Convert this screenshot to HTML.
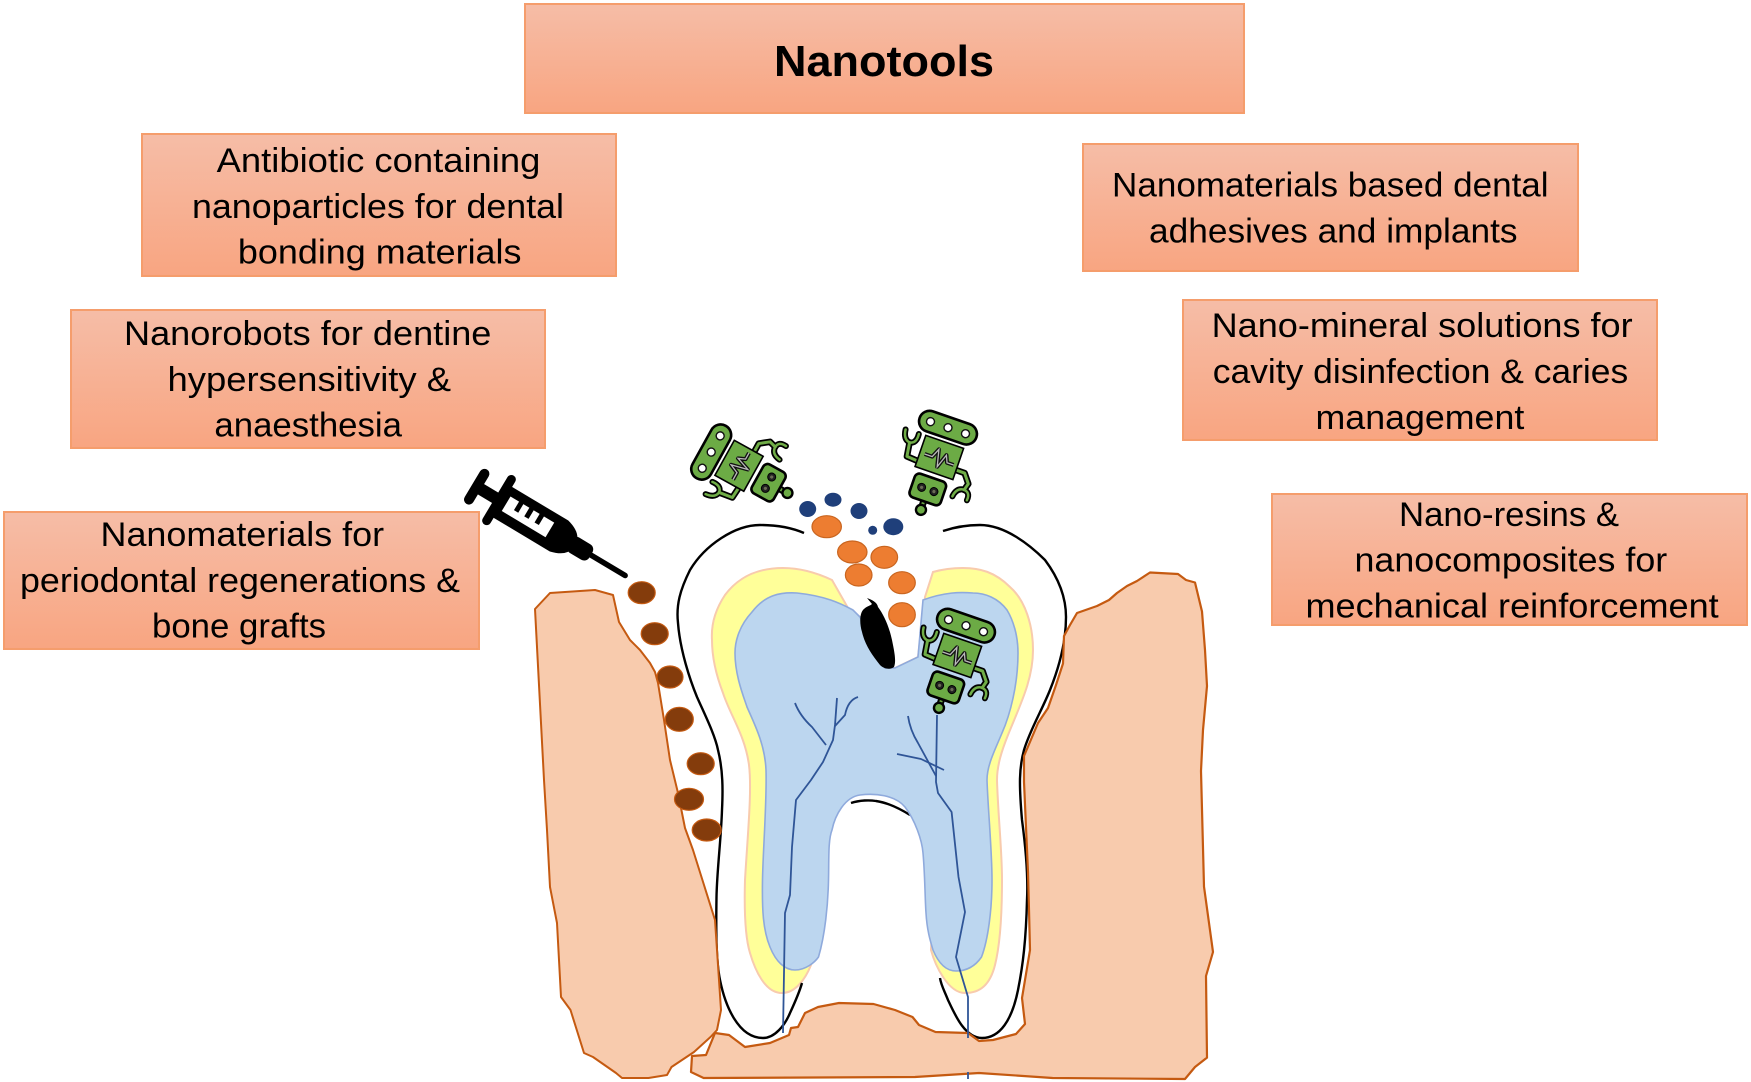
<!DOCTYPE html>
<html>
<head>
<meta charset="utf-8">
<style>
html,body{margin:0;padding:0;background:#fff;width:1751px;height:1082px;overflow:hidden}
svg{display:block}
text{font-family:"Liberation Sans",sans-serif;font-size:34px;fill:#000}
.box{fill:url(#g);stroke:#f59d6c;stroke-width:2}
</style>
</head>
<body>
<svg width="1751" height="1082" viewBox="0 0 1751 1082" xmlns="http://www.w3.org/2000/svg">
<defs>
<linearGradient id="g" x1="0" y1="0" x2="0" y2="1">
<stop offset="0" stop-color="#f6bda7"/>
<stop offset="1" stop-color="#f8a581"/>
</linearGradient>
<g id="robot">
  <g fill="none" stroke-linecap="round" stroke-linejoin="round">
    <path d="M-20,12 L-33,11 L-35,-3" stroke="#000" stroke-width="6.5"/>
    <path d="M-43,-14 Q-42,-4 -35,-3 Q-28,-4 -29,-14" stroke="#000" stroke-width="6"/>
    <path d="M14,8 L27,8 L34,17 L32,24" stroke="#000" stroke-width="6.5"/>
    <path d="M23,34 Q24,25 31,24 Q39,24 38,33" stroke="#000" stroke-width="6"/>
    <path d="M-20,12 L-33,11 L-35,-3" stroke="#70ad47" stroke-width="3"/>
    <path d="M-43,-14 Q-42,-4 -35,-3 Q-28,-4 -29,-14" stroke="#70ad47" stroke-width="2.5"/>
    <path d="M14,8 L27,8 L34,17 L32,24" stroke="#70ad47" stroke-width="3"/>
    <path d="M23,34 Q24,25 31,24 Q39,24 38,33" stroke="#70ad47" stroke-width="2.5"/>
  </g>
  <rect x="-33.5" y="-40" width="60" height="21" rx="10.5" fill="#6cab45" stroke="#000" stroke-width="2.6"/>
  <circle cx="-22" cy="-29.5" r="4" fill="#fff" stroke="#111" stroke-width="1.4"/>
  <circle cx="-3.5" cy="-29.5" r="4" fill="#fff" stroke="#111" stroke-width="1.4"/>
  <circle cx="15" cy="-29.5" r="4" fill="#fff" stroke="#111" stroke-width="1.4"/>
  <rect x="-22" y="-15" width="40" height="33" fill="#6cab45" stroke="#000" stroke-width="1.6"/>
  <path d="M-17,3 L-9,3 L-5,-6 L-1,11 L4,-3 L7,4 L14,4" fill="none" stroke="#111" stroke-width="4" stroke-linejoin="round"/>
  <path d="M-17,3 L-9,3 L-5,-6 L-1,11 L4,-3 L7,4 L14,4" fill="none" stroke="#b9b9b9" stroke-width="1.3"/>
  <rect x="-5" y="46" width="5" height="8" fill="#6cab45" stroke="#000" stroke-width="2"/>
  <circle cx="-2.3" cy="57" r="5" fill="#6cab45" stroke="#000" stroke-width="2.4"/>
  <rect x="-19" y="23" width="33" height="25" rx="5" fill="#6cab45" stroke="#000" stroke-width="2.6"/>
  <circle cx="-9" cy="35.5" r="4" fill="#222" stroke="#000" stroke-width="1"/>
  <circle cx="4" cy="35.5" r="4" fill="#222" stroke="#000" stroke-width="1"/>
  <circle cx="-9" cy="35.5" r="1.6" fill="#6b6b55"/>
  <circle cx="4" cy="35.5" r="1.6" fill="#6b6b55"/>
</g>
</defs>

<rect width="1751" height="1082" fill="#fff"/>

<rect class="box" x="525" y="4" width="719" height="109"/>
<rect class="box" x="142" y="134" width="474" height="142"/>
<rect class="box" x="71" y="310" width="474" height="138"/>
<rect class="box" x="4" y="512" width="475" height="137"/>
<rect class="box" x="1083" y="144" width="495" height="127"/>
<rect class="box" x="1183" y="300" width="474" height="140"/>
<rect class="box" x="1272" y="494" width="475" height="131"/>

<text x="774" y="76" textLength="220" lengthAdjust="spacingAndGlyphs" style="font-size:44px;font-weight:bold">Nanotools</text>
<text x="216.6" y="172" textLength="323.8" lengthAdjust="spacingAndGlyphs">Antibiotic containing</text>
<text x="192" y="217.8" textLength="372" lengthAdjust="spacingAndGlyphs">nanoparticles for dental</text>
<text x="237.9" y="263.5" textLength="283.6" lengthAdjust="spacingAndGlyphs">bonding materials</text>
<text x="124" y="345" textLength="367.4" lengthAdjust="spacingAndGlyphs">Nanorobots for dentine</text>
<text x="167.5" y="391" textLength="283.6" lengthAdjust="spacingAndGlyphs">hypersensitivity &amp;</text>
<text x="214.4" y="436.6" textLength="187.6" lengthAdjust="spacingAndGlyphs">anaesthesia</text>
<text x="100.5" y="546" textLength="283.6" lengthAdjust="spacingAndGlyphs">Nanomaterials for</text>
<text x="20" y="592" textLength="440" lengthAdjust="spacingAndGlyphs">periodontal regenerations &amp;</text>
<text x="152" y="637.6" textLength="174" lengthAdjust="spacingAndGlyphs">bone grafts</text>
<text x="1112" y="196.5" textLength="436.6" lengthAdjust="spacingAndGlyphs">Nanomaterials based dental</text>
<text x="1149" y="242.3" textLength="368.5" lengthAdjust="spacingAndGlyphs">adhesives and implants</text>
<text x="1211.6" y="337" textLength="421" lengthAdjust="spacingAndGlyphs">Nano-mineral solutions for</text>
<text x="1212.8" y="383" textLength="415.4" lengthAdjust="spacingAndGlyphs">cavity disinfection &amp; caries</text>
<text x="1315.5" y="428.8" textLength="208.8" lengthAdjust="spacingAndGlyphs">management</text>
<text x="1399" y="526" textLength="220" lengthAdjust="spacingAndGlyphs">Nano-resins &amp;</text>
<text x="1354.5" y="571.7" textLength="312.7" lengthAdjust="spacingAndGlyphs">nanocomposites for</text>
<text x="1305.5" y="617.5" textLength="413.2" lengthAdjust="spacingAndGlyphs">mechanical reinforcement</text>

<!-- tooth layers -->
<path d="M832,580 C815,572 800,568 783,568 C760,568 740,575 725,595 C715,610 711,625 712,640 C712,660 718,680 723,693 C730,715 745,735 749,765 C752,790 748,830 745,880 C744,915 746,940 750,953 C755,970 765,993 782,993 C795,993 805,980 811,965 L815,950 L820,890 L826,820 L850,780 L910,780 L930,850 L932,925 L931,950 C935,965 948,993 965,993 C980,993 990,985 995,965 C1000,945 1002,915 1002,880 C1002,850 998,815 997,780 C997,765 1002,750 1008,735 C1020,705 1033,680 1033,650 C1033,625 1025,600 1010,587 C995,572 980,568 963,568 C950,568 940,570 933,572 L925,597 L918,657 L895,668 L885,668 L860,617 L848,608 Z" fill="#ffff99" stroke="#f8cbad" stroke-width="2"/>

<path d="M851,803 C860,800 870,800 876,801 C890,803 902,810 910,815" fill="none" stroke="#000" stroke-width="2.4"/>

<path d="M853,610 C840,603 825,596 797,593 C780,592 765,595 752,612 C740,625 735,640 735,653 C735,675 743,695 747,707 C755,725 765,745 766,770 C767,800 763,850 762.5,880 C762,910 763,930 770,947 C776,962 785,970 795,970 C806,970 815,962 818.5,957 C825,935 828,905 828.5,880 C829,860 828,840 832,830 C835,815 845,797 860,795 C875,793 895,795 905,807 C915,820 922,840 923,853 C925,875 925,900 926,913 C927,930 930,940 933,950 C938,962 945,971 956,971 C968,971 976,965 981.5,957 C988,940 992,910 992,880 C992,850 988,810 987,780 C987,765 995,750 1002,733 C1010,715 1018,685 1018,653 C1018,635 1013,620 1007,610 C998,598 985,593 973,593 C960,592 945,592 923,600 L918,657 L895,668 L885,668 L860,617 Z" fill="#bcd6ef" stroke="#8faadc" stroke-width="1.6"/>

<!-- black outlines of tooth -->
<g fill="none" stroke="#000" stroke-width="2.4">
<path d="M804,533 C790,527 775,525 760,525 C735,525 705,545 690,570 C680,590 676,605 678,623 C680,650 690,680 697,697 C705,715 715,735 718,750 C723,770 723,790 722,810 C721,840 717,870 716.5,897 C716,930 716,960 720,980 C725,1005 738,1038 763,1038 C775,1038 785,1025 790,1013 C796,1000 800,990 802,983"/>
<path d="M943,531 C955,527 968,525 980,525 C1005,525 1030,545 1045,560 C1060,580 1066,600 1066,617 C1066,640 1060,665 1050,690 C1042,710 1030,730 1024,750 C1019,768 1019,785 1022,820 C1026,850 1028,880 1027,900 C1026,940 1023,965 1018,990 C1012,1020 1000,1038 982,1038 C965,1038 955,1015 948,1000 C944,990 941,985 940,978"/>
</g>

<!-- gums -->
<path d="M535,609 L550,593 L595,590 L613,595 L619,622 L630,640 L640,650 L650,663 L655,672 L658,683 L664,720 L670,760 L678,793 L685,828 L693,850 L704,885 L715,920 L718,965 L721,1010 L717,1030 L710.5,1037 L694,1052 L671.5,1067 L667,1075 L648.5,1078 L622,1078 L616,1073 L593,1057 L584,1053 L570.5,1010 L561,997 L557,923 L550,887 L547,830 L544,780 Z" fill="#f8cbad" stroke="#c55a11" stroke-width="2" stroke-linejoin="round"/>
<path d="M715,1033 L729,1035 L745,1047 L770,1043 L789,1035 L791,1028 L798,1027 L805,1013 L818,1007 L839,1003 L873.5,1004 L895,1010 L912.5,1017 L919,1025 L935.5,1032 L968,1033 L979,1041 L993,1040 L1016,1034 L1025,1024 L1022,998 L1030,950 L1029,910 L1028,872 L1024,782 L1024,756 L1038,723 L1048,708 L1056,685 L1063,663.5 L1064,636 L1070,625 L1077,613 L1097,606 L1109,600 L1117,593 L1127,586 L1137,581 L1150,572.5 L1178,574 L1186,580 L1195,582.5 L1202,611.5 L1205,650 L1207,686 L1203,730 L1201,771 L1204,886.6 L1213,952 L1206,976 L1207,1057.6 L1195,1067 L1185,1079 L1052.6,1078 L979,1073 L915,1077 L703.6,1078 L691,1072 L692,1056 L706,1055 Z" fill="#f8cbad" stroke="#c55a11" stroke-width="2.2" stroke-linejoin="round"/>

<!-- nerves -->
<g fill="none" stroke="#2f5597" stroke-width="1.8" stroke-linejoin="round">
<path d="M837,698 L835,725 L833,740 L823,762 L811,780 L796,800 L792,847 L790,895 L785,913 L783,1033"/>
<path d="M795,703 Q800,716 812,727 L826,745"/>
<path d="M858,697 Q848,700 845,715 L835,726"/>
<path d="M937,715 L936,782 L938,793 L951.6,812 L958.5,877 L965,912 L956,957 L968,997 L968,1038"/>
<path d="M908,716 Q910,730 918,743 L936,776"/>
<path d="M897,754 L921,759 L944,770"/>
<path d="M968,1072 L968,1079"/>
</g>

<!-- cavity -->
<path d="M867,598 C872,600 877,602 878,607 C884,615 890,628 893,645 C895,655 896,662 894,667 C890,670 884,669 880,665 C872,655 865,645 862,632 C859,622 860,612 864,609 C867,606 870,606 872,604 Z" fill="#000"/>

<!-- brown dots -->
<g fill="#843c0c" stroke="#c55a11" stroke-width="1.2">
<ellipse cx="641.7" cy="592.7" rx="13.5" ry="11"/>
<ellipse cx="654.7" cy="633.7" rx="13.5" ry="11"/>
<ellipse cx="670" cy="677" rx="13" ry="11"/>
<ellipse cx="679.3" cy="719.3" rx="14" ry="12"/>
<ellipse cx="700.7" cy="763.7" rx="13.5" ry="11"/>
<ellipse cx="689" cy="799.3" rx="14.5" ry="11"/>
<ellipse cx="706.7" cy="830" rx="14.5" ry="11"/>
</g>
<!-- orange dots -->
<g fill="#ed7d31" stroke="#c9651f" stroke-width="1.2">
<ellipse cx="826.7" cy="526.7" rx="14.7" ry="11"/>
<ellipse cx="852.3" cy="552" rx="14.7" ry="11"/>
<ellipse cx="884.3" cy="557.3" rx="13.3" ry="11"/>
<ellipse cx="858.7" cy="575" rx="13.3" ry="11"/>
<ellipse cx="902" cy="582.7" rx="13.3" ry="11"/>
<ellipse cx="902" cy="614.7" rx="13.3" ry="12"/>
</g>
<!-- navy dots -->
<g fill="#1f3f7a">
<ellipse cx="807.7" cy="509" rx="8.5" ry="8"/>
<ellipse cx="833" cy="499.7" rx="8.5" ry="7"/>
<ellipse cx="859" cy="511" rx="8.5" ry="8"/>
<ellipse cx="872.7" cy="530.3" rx="4.5" ry="4.5"/>
<ellipse cx="893.3" cy="526.7" rx="10" ry="8.5"/>
</g>

<!-- syringe -->
<g transform="translate(476.7,486.7) rotate(30.9)">
<line x1="0" y1="-15" x2="0" y2="15" stroke="#000" stroke-width="10" stroke-linecap="round"/>
<rect x="0" y="-6" width="26" height="12" fill="#000"/>
<line x1="26" y1="-24" x2="26" y2="24" stroke="#000" stroke-width="9" stroke-linecap="round"/>
<path d="M26,-18 L96,-18 Q112,-14 114,-4 L114,4 Q112,14 96,18 L26,18 Z" fill="#000"/>
<rect x="108" y="-9" width="25" height="18" rx="6" fill="#000"/>
<line x1="130" y1="0" x2="173" y2="0" stroke="#000" stroke-width="5.5" stroke-linecap="round"/>
<rect x="34" y="-9" width="51" height="17" fill="#fff"/>
<rect x="44" y="-10" width="5" height="11" fill="#000"/>
<rect x="56" y="-10" width="5" height="11" fill="#000"/>
<rect x="68" y="-10" width="5" height="11" fill="#000"/>
</g>

<!-- robots -->
<use href="#robot" transform="translate(941.7,456.7) rotate(19)"/>
<use href="#robot" transform="translate(959.7,654.7) rotate(19)"/>
<use href="#robot" transform="translate(738.7,463.3) rotate(-61)"/>
</svg>
</body>
</html>
